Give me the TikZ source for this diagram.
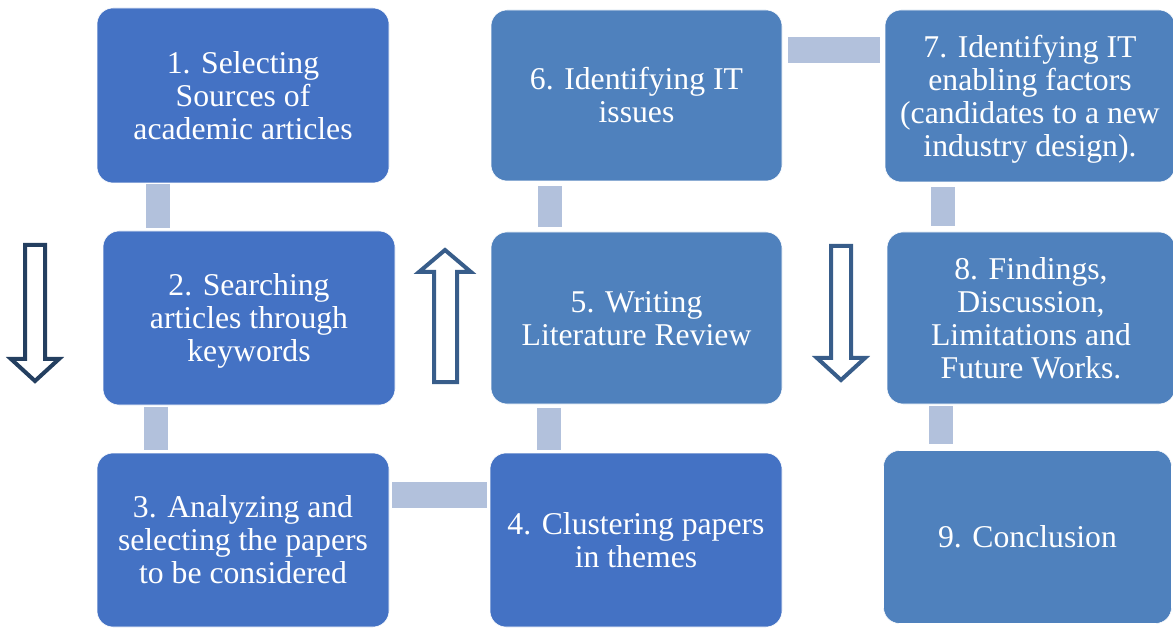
\documentclass[tikz,border=0pt]{standalone}
\usepackage{fontspec}
\setmainfont{Liberation Serif}
\newfontfamily\tnr{Liberation Serif}
\usetikzlibrary{calc}
\definecolor{boxA}{HTML}{4472C4}
\definecolor{boxB}{HTML}{4F81BD}
\definecolor{barc}{HTML}{B2C1DC}
\definecolor{arrDark}{HTML}{243F60}
\definecolor{arrMid}{HTML}{385D8A}
\newcommand\tst{\rule{0pt}{0.891em}}
\newcommand\bst{\rule[-0.216em]{0pt}{0.216em}}
\tikzset{
  stepbox/.style={rectangle, rounded corners=16pt, draw=white, line width=0.6pt,
    text=white, align=center, inner sep=0pt,
    font=\tnr\fontsize{31.7}{33}\selectfont},
  boxa/.style={stepbox, fill=boxA},
  boxb/.style={stepbox, fill=boxB},
  barline/.style={draw=barc, line width=24pt},
  barlineh/.style={draw=barc, line width=26pt},
  blockarrow/.style={fill=white, line width=4pt, line join=miter},
}
\begin{document}
\begin{tikzpicture}[x=1pt,y=-1pt]
\useasboundingbox (0,0) rectangle (1173,628);
% boxes: centre, width, height
\node[boxa, minimum width=292pt, minimum height=175pt] (n1) at (243,95.5) {\tst 1. Selecting\\Sources of\\academic articles\bst};
\node[boxa, minimum width=292pt, minimum height=174pt] (n2) at (249,318) {\tst 2. Searching\\articles through\\keywords\bst};
\node[boxa, minimum width=292pt, minimum height=174pt] (n3) at (243,540) {\tst 3. Analyzing and\\selecting the papers\\to be considered\bst};
\node[boxa, minimum width=292pt, minimum height=174pt] (n4) at (636,540) {\tst 4. Clustering papers\\in themes\bst};
\node[boxb, minimum width=291pt, minimum height=172pt] (n5) at (636.5,318) {\tst 5. Writing\\Literature Review\bst};
\node[boxb, minimum width=291pt, minimum height=171pt] (n6) at (636.5,95.5) {\tst 6. Identifying IT\\issues\bst};
\node[boxb, minimum width=290pt, minimum height=172pt] (n7) at (1030,96) {\tst 7. Identifying IT\\enabling factors\\(candidates to a new\\industry design).\bst};
\node[boxb, minimum width=288pt, minimum height=172pt] (n8) at (1031,318) {\tst 8. Findings,\\Discussion,\\Limitations and\\Future Works.\bst};
\node[boxb, minimum width=288pt, minimum height=173pt] (n9) at (1027.5,537) {\tst 9. Conclusion\bst};
% connector bars
\coordinate (c12) at ([xshift=61pt]n1.south west);
\draw[barline, shorten <=0.5pt, shorten >=3pt] (c12) -- (c12 |- n2.north);
\coordinate (c23) at ([xshift=53pt]n2.south west);
\draw[barline, shorten <=1.5pt, shorten >=3pt] (c23) -- (c23 |- n3.north);
\coordinate (c34) at ([yshift=-42pt]n3.north east);
\draw[barlineh, shorten <=3pt, shorten >=3pt] (c34) -- (c34 -| n4.west);
\coordinate (c45) at ([xshift=59.5pt]n4.north west);
\draw[barline, shorten <=3pt, shorten >=4pt] (c45) -- (c45 |- n5.south);
\coordinate (c56) at ([xshift=59pt]n5.north west);
\draw[barline, shorten <=5pt, shorten >=5pt] (c56) -- (c56 |- n6.south);
\coordinate (c67) at ([yshift=-40pt]n6.north east);
\draw[barlineh, shorten <=6pt, shorten >=5pt] (c67) -- (c67 -| n7.west);
\coordinate (c78) at ([xshift=58pt]n7.south west);
\draw[barline, shorten <=5pt, shorten >=6pt] (c78) -- (c78 |- n8.north);
\coordinate (c89) at ([xshift=54pt]n8.south west);
\draw[barline, shorten <=2pt, shorten >=6pt] (c89) -- (c89 |- n9.north);
% block arrows
\draw[blockarrow, draw=arrDark] (25,245) -- (45,245) -- (45,359) -- (59,359) -- (35,381) -- (11,359) -- (25,359) -- cycle;
\draw[blockarrow, draw=arrMid] (434,382) -- (457,382) -- (457,272) -- (471,272) -- (445,250) -- (419,272) -- (434,272) -- cycle;
\draw[blockarrow, draw=arrMid] (831,246) -- (851,246) -- (851,358) -- (865,358) -- (841,380) -- (817,358) -- (831,358) -- cycle;
\end{tikzpicture}
\end{document}
